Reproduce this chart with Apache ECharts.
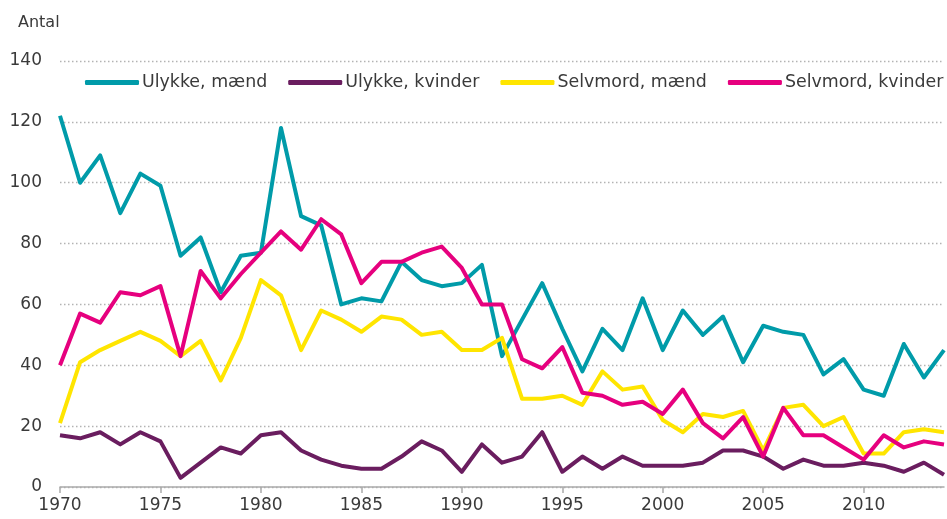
<!DOCTYPE html>
<html>
<head>
<meta charset="utf-8">
<script src="https://cdn.jsdelivr.net/npm/echarts@6/dist/echarts.min.js"></script>
<style>
  html, body { margin: 0; padding: 0; background: #fff; }
  #chart { width: 947px; height: 519px; }
</style>
</head>
<body>
<div id="chart"></div>
<script>
let years = [];
for (let y = 1970; y <= 2014; y++) years.push(String(y));

let ulykkeMaend = [122,100,109,90,103,99,76,82,64,76,77,118,89,86,60,62,61,74,68,66,67,73,43,55,67,52,38,52,45,62,45,58,50,56,41,53,51,50,37,42,32,30,47,36,45];
let ulykkeKvinder = [17,16,18,14,18,15,3,8,13,11,17,18,12,9,7,6,6,10,15,12,5,14,8,10,18,5,10,6,10,7,7,7,8,12,12,10,6,9,7,7,8,7,5,8,4];
let selvmordMaend = [21,41,45,48,51,48,43,48,35,49,68,63,45,58,55,51,56,55,50,51,45,45,49,29,29,30,27,38,32,33,22,18,24,23,25,12,26,27,20,23,11,11,18,19,18];
let selvmordKvinder = [40,57,54,64,63,66,43,71,62,70,77,84,78,88,83,67,74,74,77,79,72,60,60,42,39,46,31,30,27,28,24,32,21,16,23,10,26,17,17,13,9,17,13,15,14];

let font = 'DejaVu Sans';
let textColor = '#3a3a3a';
let myChart = echarts.init(document.getElementById('chart'));

function line(name, data, color) {
  return {
    name: name,
    type: 'line',
    data: data,
    symbol: 'none',
    lineStyle: { color: color, width: 4, join: 'round' },
    itemStyle: { color: color }
  };
}

let option = {
  animation: false,
  title: {
    text: 'Antal',
    left: 13,
    top: 10,
    textStyle: { fontFamily: font, fontSize: 16, fontWeight: 'normal', color: textColor }
  },
  legend: {
    left: 85,
    top: 74,
    width: 900,
    padding: 0,
    itemWidth: 54,
    itemHeight: 5,
    itemGap: 21,
    icon: 'roundRect',
    textStyle: { fontFamily: font, fontSize: 17.4, color: textColor, padding: [0, 0, 0, -2] }
  },
  grid: { left: 60, right: 3, top: 61, bottom: 32 },
  xAxis: {
    type: 'category',
    data: years,
    boundaryGap: false,
    axisLine: { lineStyle: { color: '#aaa', width: 1.5 } },
    axisTick: {
      length: 6,
      lineStyle: { color: '#aaa', width: 1.5 },
      interval: function (i) { return i % 5 === 0; }
    },
    axisLabel: {
      interval: function (i) { return i % 5 === 0; },
      fontFamily: font, fontSize: 17, color: textColor, margin: 10
    },
    splitLine: { show: false }
  },
  yAxis: {
    type: 'value',
    min: 0,
    max: 140,
    interval: 20,
    axisLine: { show: false },
    axisTick: { show: false },
    axisLabel: { fontFamily: font, fontSize: 17, color: textColor, margin: 18 },
    splitLine: { lineStyle: { color: '#b3b3b3', type: [1.5, 2.5], width: 1.3 } }
  },
  series: [
    line('Ulykke, mænd', ulykkeMaend, '#009BA9'),
    line('Ulykke, kvinder', ulykkeKvinder, '#6A1D5F'),
    line('Selvmord, mænd', selvmordMaend, '#FFE500'),
    line('Selvmord, kvinder', selvmordKvinder, '#E6007E')
  ]
};
myChart.setOption(option);
</script>
</body>
</html>
